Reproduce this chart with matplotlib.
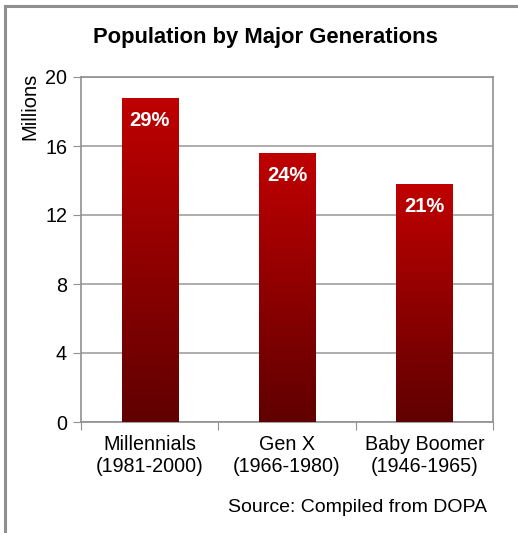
import matplotlib.pyplot as plt
import numpy as np
from matplotlib.lines import Line2D
from matplotlib.colors import LinearSegmentedColormap

plt.rcParams['font.family'] = ['Liberation Sans', 'DejaVu Sans']

categories = ['Millennials\n(1981-2000)', 'Gen X\n(1966-1980)', 'Baby Boomer\n(1946-1965)']
population = [18.8, 15.6, 13.8]
shares = ['29%', '24%', '21%']
yticks = [0, 4, 8, 12, 16, 20]

fig = plt.figure(figsize=(5.18, 5.33), dpi=100)
ax = fig.add_axes([81 / 518, 1 - 422 / 533, 412 / 518, 345 / 533])

# gradient fill for bars
grad = np.linspace(0, 1, 256).reshape(-1, 1)
cmap = LinearSegmentedColormap.from_list('reds', ['#600000', '#c00000'])

x = np.arange(len(categories))
bars = ax.bar(x, population, width=0.41, color='none', edgecolor='none', zorder=3)
for bar, share in zip(bars, shares):
    x0, w, h = bar.get_x(), bar.get_width(), bar.get_height()
    im = ax.imshow(grad, cmap=cmap, aspect='auto', origin='lower',
                   extent=[x0, x0 + w, 0, h], zorder=3)
    im.set_clip_path(bar)
    ax.text(x0 + w / 2, h - 1.3, share, color='white', fontsize=14.5,
            fontweight='bold', ha='center', va='center', zorder=4)

ax.set_xlim(-0.5, 2.5)
ax.set_ylim(0, 20)
ax.set_yticks(yticks)
ax.set_xticks([-0.5, 0.5, 1.5, 2.5])
ax.set_xticklabels([])
ax.set_xticks(x, minor=True)
ax.set_xticklabels(categories, minor=True, fontsize=14.2, linespacing=1.25)
ax.tick_params(axis='x', which='minor', length=0, pad=9)
ax.tick_params(axis='x', which='major', length=6, color='#909090', direction='out')
ax.tick_params(axis='y', length=6, color='#909090', labelsize=14.2, pad=4)
ax.grid(axis='y', color='#a0a0a0', linewidth=1.2, zorder=0)
for side in ['left', 'bottom', 'right', 'top']:
    ax.spines[side].set_color('#909090')
    ax.spines[side].set_linewidth(1.2)

fig.text(0.513, 1 - 37 / 533, 'Population by Major Generations', fontsize=15.8,
         fontweight='bold', ha='center', va='center')
fig.text(30 / 518, 1 - 106 / 533, 'Millions', rotation=90, fontsize=14.5,
         ha='center', va='center')
fig.text(487 / 518, 1 - 508 / 533, 'Source: Compiled from DOPA', fontsize=14,
         ha='right', va='center')

# partial frame around the chart
fig.add_artist(Line2D([5 / 518, 1], [1 - 6 / 533] * 2, color='#909090', linewidth=2.2))
fig.add_artist(Line2D([5 / 518] * 2, [0, 1 - 6 / 533], color='#909090', linewidth=2.2))

fig.savefig('out.png', dpi=100)
